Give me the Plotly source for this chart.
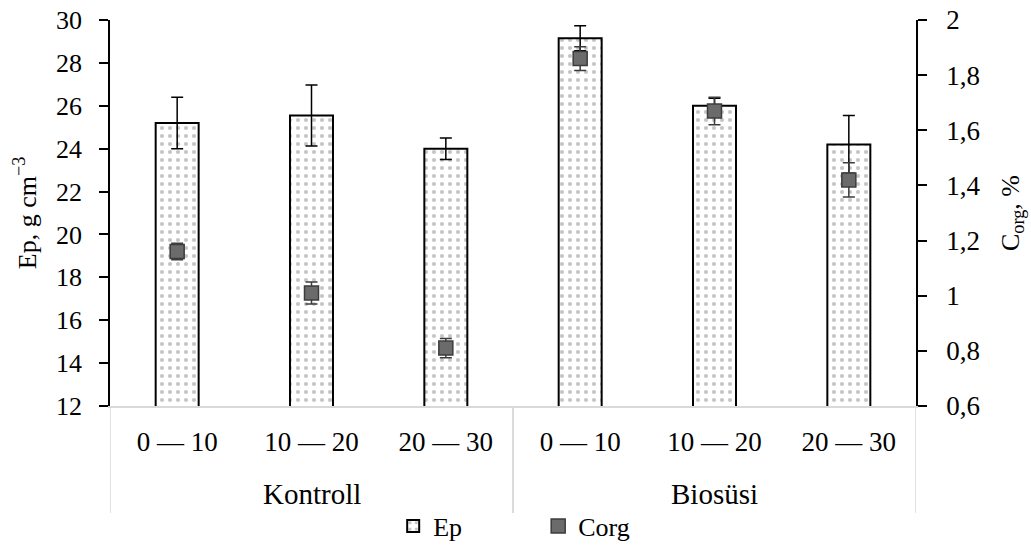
import plotly.graph_objects as go

# Soil depth layers (cm) within each treatment
groups = ["Kontroll"] * 3 + ["Biosüsi"] * 3
depths = ["0 — 10", "10 — 20", "20 — 30"] * 2
group_names = ["Kontroll", "Biosüsi"]

# Ep (g cm-3) means and standard deviations
ep = [25.2, 25.55, 24.0, 29.15, 26.0, 24.2]
ep_err = [1.2, 1.42, 0.5, 0.58, 0.35, 1.35]

# Organic carbon (%) means and standard deviations
corg = [1.16, 1.01, 0.81, 1.86, 1.67, 1.42]
corg_err = [0.03, 0.04, 0.035, 0.043, 0.05, 0.062]

FONT = "Liberation Serif, Times New Roman, serif"
AXIS_GREY = "#d9d9d9"

pos = list(range(len(depths)))

fig = go.Figure()

fig.add_trace(go.Bar(
    x=pos,
    y=ep,
    name="Ep",
    marker=dict(
        color="white",
        line=dict(color="black", width=2),
        pattern=dict(shape=".", fgcolor="#8c8c8c", bgcolor="white",
                     size=8, solidity=0.22),
    ),
    error_y=dict(type="data", array=ep_err, visible=True,
                 color="black", thickness=1.5, width=6),
))

fig.add_trace(go.Scatter(
    x=pos,
    y=corg,
    name="Corg",
    yaxis="y2",
    mode="markers",
    marker=dict(symbol="square", size=14, color="#6b6b6b",
                line=dict(color="#3c3c3c", width=1.5)),
    error_y=dict(type="data", array=corg_err, visible=True,
                 color="#3c3c3c", thickness=1.5, width=6),
))

# Group labels under the depth labels, and the separators between groups
plot_w = 916 - 110
plot_h = 406 - 20
sep_depth = -(513 - 406) / plot_h
annotations = []
shapes = []
for gname in group_names:
    idx = [i for i, g in enumerate(groups) if g == gname]
    annotations.append(dict(
        x=sum(idx) / len(idx), y=-(494 - 406) / plot_h,
        xref="x", yref="paper", text=gname, showarrow=False,
        font=dict(family=FONT, size=29, color="black"),
        xanchor="center", yanchor="middle",
    ))
    for edge in (min(idx) - 0.5, max(idx) + 0.5):
        shapes.append(dict(
            type="line", xref="x", yref="paper",
            x0=edge, x1=edge, y0=0, y1=sep_depth,
            line=dict(color=AXIS_GREY, width=1.5),
        ))

# Title of the secondary (right) axis
annotations.append(dict(
    x=(1012 - 110) / plot_w, y=0.5, xref="paper", yref="paper",
    text="C<sub>org</sub>, %", textangle=-90, showarrow=False,
    font=dict(family=FONT, size=26, color="black"),
    xanchor="center", yanchor="middle",
))

fig.update_layout(
    width=1031, height=545,
    margin=dict(l=110, r=115, t=20, b=139, autoexpand=False),
    paper_bgcolor="white", plot_bgcolor="white",
    font=dict(family=FONT, size=26, color="black"),
    separators=", ",
    bargap=0.68,
    showlegend=True,
    legend=dict(orientation="h", x=0.522, xanchor="center",
                xref="container", yref="paper",
                y=-(526 - 406) / plot_h, yanchor="middle",
                font=dict(family=FONT, size=26), bgcolor="rgba(0,0,0,0)",
                itemwidth=30, entrywidth=100),
    annotations=annotations,
    shapes=shapes,
    xaxis=dict(
        range=[-0.5, len(depths) - 0.5],
        tickmode="array", tickvals=pos, ticktext=depths,
        showline=True, linecolor=AXIS_GREY, linewidth=1.5,
        ticks="", ticklabelstandoff=11, tickfont=dict(size=27),
        showgrid=False, zeroline=False,
    ),
    yaxis=dict(
        range=[12, 30], tick0=12, dtick=2,
        showline=True, linecolor="black", linewidth=1.5,
        ticks="outside", ticklen=9, tickcolor="black", tickwidth=1.5,
        ticklabelstandoff=12,
        showgrid=False, zeroline=False,
        tickfont=dict(size=26),
        title=dict(text="Ep, g cm<sup>−3</sup>", font=dict(size=26), standoff=12),
    ),
    yaxis2=dict(
        overlaying="y", side="right",
        range=[0.6, 2.0], tick0=0.6, dtick=0.2,
        showline=True, linecolor="black", linewidth=1.5,
        ticks="outside", ticklen=9, tickcolor="black", tickwidth=1.5,
        ticklabelstandoff=14,
        showgrid=False, zeroline=False,
        tickfont=dict(size=27),
    ),
)

fig.write_html("out.html")
